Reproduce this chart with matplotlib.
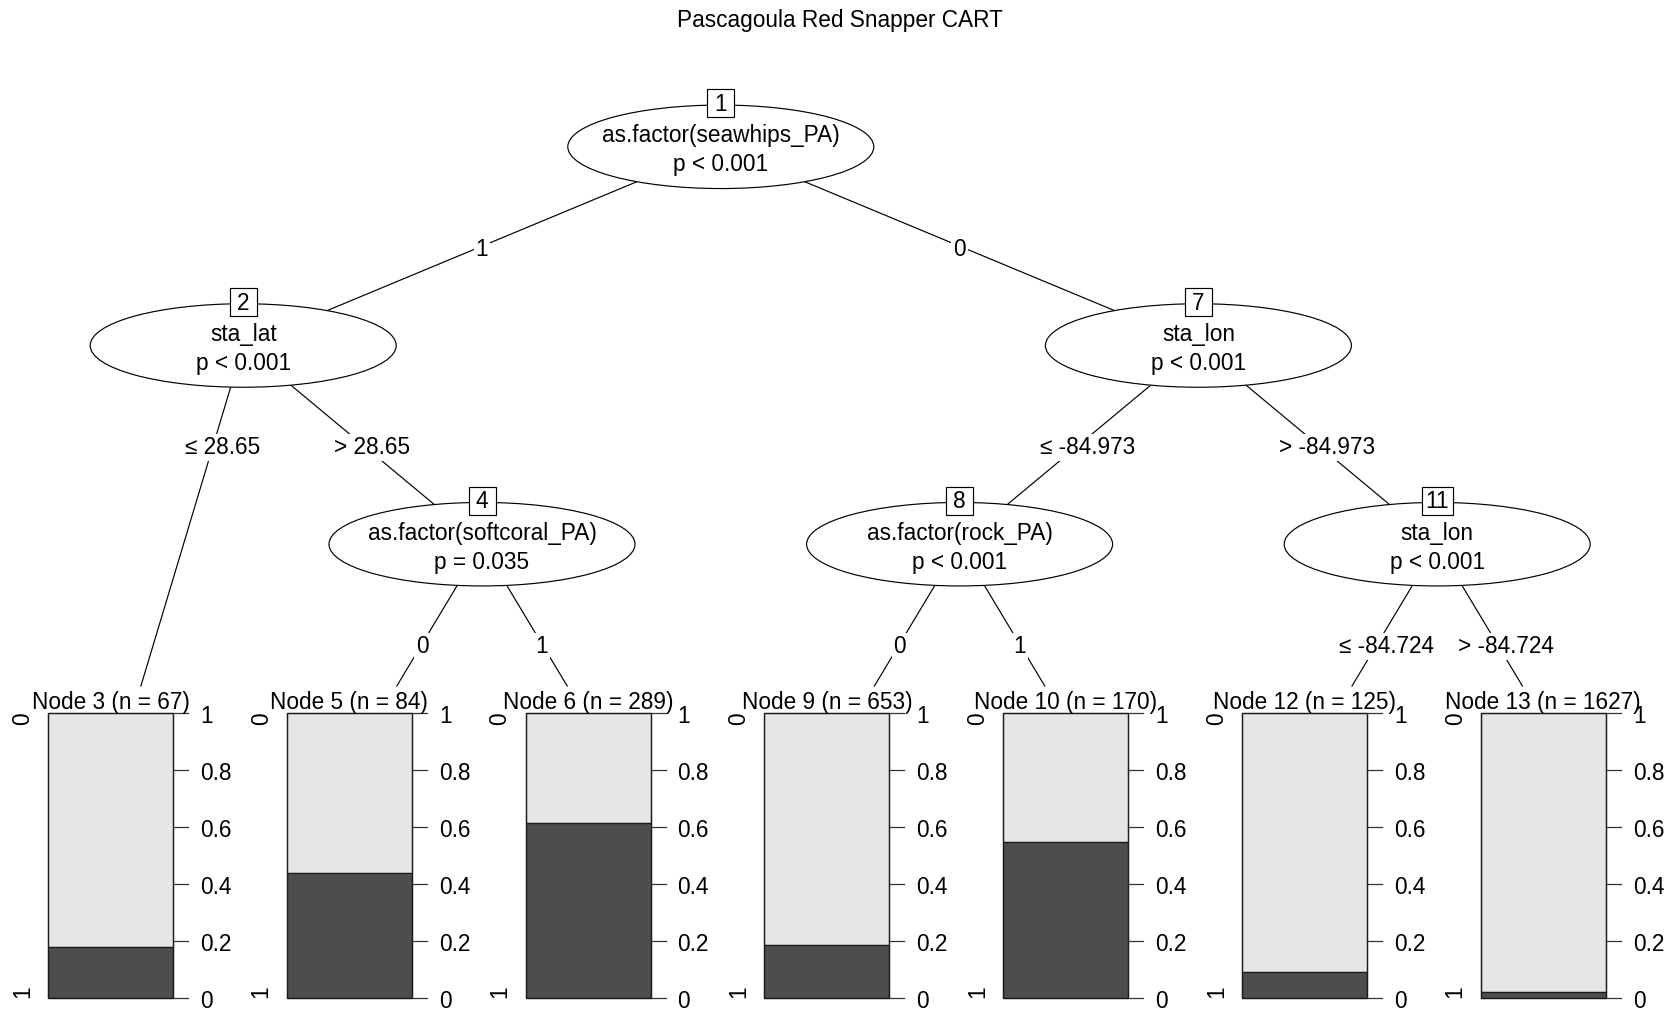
import numpy as np
import matplotlib
matplotlib.use("Agg")
import matplotlib.pyplot as plt
from matplotlib.patches import Ellipse, Rectangle

plt.rcParams['font.family'] = ['Liberation Sans', 'DejaVu Sans']

title = "Pascagoula Red Snapper CART"

# inner (split) nodes
inner_ids = [1, 2, 4, 7, 8, 11]
inner_vars = ["as.factor(seawhips_PA)", "sta_lat", "as.factor(softcoral_PA)",
              "sta_lon", "as.factor(rock_PA)", "sta_lon"]
inner_pvals = ["p < 0.001", "p < 0.001", "p = 0.035",
               "p < 0.001", "p < 0.001", "p < 0.001"]
left_kids = [2, 3, 5, 8, 9, 12]
right_kids = [7, 4, 6, 11, 10, 13]
left_labels = ["1", "\u2264 28.65", "0", "\u2264 -84.973", "0", "\u2264 -84.724"]
right_labels = ["0", "> 28.65", "1", "> -84.973", "1", "> -84.724"]

# terminal nodes
term_ids = [3, 5, 6, 9, 10, 12, 13]
term_n = [67, 84, 289, 653, 170, 125, 1627]
term_p1 = [0.18, 0.44, 0.615, 0.185, 0.547, 0.09, 0.02]
class_levels = ["0", "1"]
yticks = [0, 0.2, 0.4, 0.6, 0.8, 1]

FS = 16.3
W, H = 1679, 1013
X0, UX = 4.4, 238.8     # slot origin / slot width (px)
Y0, UY = 146.8, 198.7   # level origin / level step (px)
TERM_TOP = 686          # top of terminal panels
RECT_TOP, RECT_BOT = 713, 998

kids = {i: (l, r) for i, l, r in zip(inner_ids, left_kids, right_kids)}
elabs = {i: (l, r) for i, l, r in zip(inner_ids, left_labels, right_labels)}


def n_term(i):
    if i not in kids:
        return 1
    return n_term(kids[i][0]) + n_term(kids[i][1])


pos = {}
depth = {}


def layout(i, left, d):
    if i not in kids:
        pos[i] = (left + 0.5, 3)
        depth[i] = d
        return
    l, r = kids[i]
    nl = n_term(l)
    pos[i] = (left + nl, d)
    depth[i] = d
    layout(l, left, d + 1)
    layout(r, left + nl, d + 1)


layout(1, 0, 0)


def px(i):
    u, lev = pos[i]
    return X0 + UX * u, Y0 + UY * lev


fig = plt.figure(figsize=(16.79, 10.13), dpi=100)
ax = fig.add_axes([0, 0, 1, 1])
ax.set_xlim(0, W)
ax.set_ylim(H, 0)
ax.axis('off')

ax.text(W / 2, 27, title, ha='center', va='baseline', fontsize=FS)

# edges + edge labels
for p in inner_ids:
    x1, y1 = px(p)
    for k, lab in zip(kids[p], elabs[p]):
        x2, y2 = px(k)
        if k not in kids:
            xe = x1 + (x2 - x1) * (TERM_TOP - y1) / (y2 - y1)
            ye = TERM_TOP
        else:
            xe, ye = x2, y2
        ax.plot([x1, xe], [y1, ye], color='black', lw=0.85, zorder=1)
        yl = Y0 + UY * (depth[p] + 0.5)
        xl = x1 + (x2 - x1) * (yl - y1) / (y2 - y1)
        if lab[0] in "\u2264>":
            xl += 9
        ax.text(xl, yl + 3, lab, ha='center', va='center', fontsize=FS, zorder=2,
                bbox=dict(facecolor='white', edgecolor='none', pad=1.5))

# inner nodes
for i, var, pv in zip(inner_ids, inner_vars, inner_pvals):
    x, y = px(i)
    ax.add_patch(Ellipse((x, y), 306, 83.5, facecolor='white', edgecolor='black',
                         lw=0.85, zorder=3))
    ax.text(x, y - 4.5, var, ha='center', va='baseline', fontsize=FS, zorder=4)
    ax.text(x, y + 24.5, pv, ha='center', va='baseline', fontsize=FS, zorder=4)
    s = str(i)
    bw = max(27, 12.6 * len(s) + 6)
    by = y - 43.5
    ax.add_patch(Rectangle((x - bw / 2, by - 14), bw, 28, facecolor='white',
                           edgecolor='black', lw=0.85, zorder=5))
    ax.text(x, by + 1, s, ha='center', va='center', fontsize=FS, zorder=6)

# terminal nodes: stacked bar plots
for k, (tid, n, p1) in enumerate(zip(term_ids, term_n, term_p1)):
    sl = X0 + UX * k
    rl = sl + 43.6
    rw = 125
    rh = RECT_BOT - RECT_TOP
    # light part (class 0) on top, dark part (class 1) at bottom
    ax.add_patch(Rectangle((rl, RECT_TOP), rw, rh * (1 - p1), facecolor='#e6e6e6',
                           edgecolor='#1a1a1a', lw=0.9, zorder=3))
    ax.add_patch(Rectangle((rl, RECT_BOT - rh * p1), rw, rh * p1, facecolor='#4d4d4d',
                           edgecolor='#1a1a1a', lw=0.9, zorder=3))
    ax.add_patch(Rectangle((rl, RECT_TOP), rw, rh, facecolor='none',
                           edgecolor='#1a1a1a', lw=0.9, zorder=4))
    ax.text(rl + rw / 2, 709, f"Node {tid} (n = {n})", ha='center', va='baseline',
            fontsize=FS, zorder=5)
    # right axis
    rr = rl + rw
    for t in yticks:
        yt = RECT_BOT - rh * t
        ax.plot([rr, rr + 15], [yt, yt], color='#333333', lw=0.9, zorder=4)
        ax.text(rr + 27, yt + 3, f"{t:g}", ha='left', va='center', fontsize=FS, zorder=5)
    # class level labels on the left, rotated
    ax.text(sl + 18, RECT_TOP - 1, class_levels[0], rotation=90, ha='center', va='top',
            fontsize=FS, zorder=5)
    ax.text(sl + 18, RECT_BOT, class_levels[1], rotation=90, ha='center', va='bottom',
            fontsize=FS, zorder=5)

fig.savefig("out.png", dpi=100)
